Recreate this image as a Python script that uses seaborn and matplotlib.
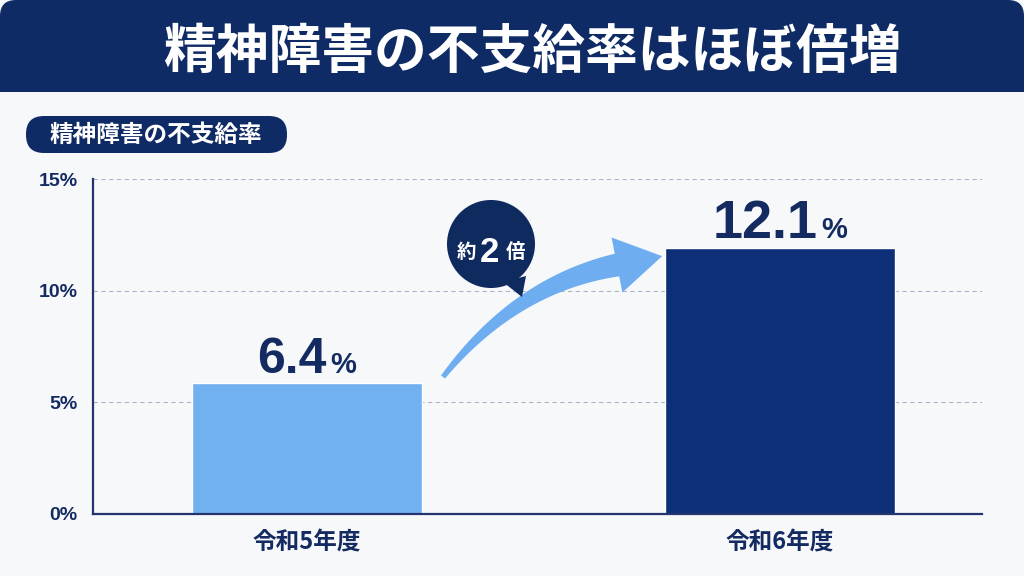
import numpy as np
import pandas as pd
import seaborn as sns
import matplotlib.pyplot as plt
from matplotlib.patches import FancyBboxPatch, Rectangle, Polygon, Circle
from matplotlib.transforms import Affine2D

# ---------------- data ----------------
categories = ["令和5年度", "令和6年度"]
bar_heights = [5.85, 11.9]          # bar heights as drawn in the picture (%)
value_labels = ["6.4", "12.1"]       # printed values
value_sizes = [36, 39]
ytick_values = [0, 5, 10, 15]
ytick_labels = ["0%", "5%", "10%", "15%"]
title_text = "精神障害の不支給率はほぼ倍増"
subtitle_text = "精神障害の不支給率"
badge_parts = ["約", "2", "倍"]

# ---------------- style ----------------
NAVY = "#0f2b66"
BAR_NAVY = "#0c2f78"
LIGHT = "#72b1f0"
TEXT_NAVY = "#142b62"
BG = "#f7f8fa"

sns.set_theme(style="white")
plt.rcParams['font.family'] = ['Noto Sans CJK JP', 'DejaVu Sans']

W, H = 1024, 576
fig = plt.figure(figsize=(W / 100, H / 100), dpi=100, facecolor=BG)
T = Affine2D().scale(1, -1).translate(0, H)  # image pixel coords -> display

ax = fig.add_axes([93 / W, 1 - 514 / H, (982 - 93) / W, (514 - 179) / H])
ax.set_facecolor("none")

df = pd.DataFrame({"year": categories, "rate": bar_heights})
sns.barplot(data=df, x="year", y="rate", hue="year", palette=[LIGHT, BAR_NAVY],
            width=0.486, saturation=1, legend=False, ax=ax)

ax.set_xlim(-0.452, 1.427)
ax.set_ylim(0, 15)
ax.set_yticks(ytick_values)
ax.set_yticklabels(ytick_labels, family="Liberation Sans", weight="bold",
                   fontsize=14, color=TEXT_NAVY)
ax.set_xticks(range(len(categories)))
ax.set_xticklabels(categories, weight="bold", fontsize=17, color=TEXT_NAVY)
ax.tick_params(axis="both", length=0)
ax.tick_params(axis="y", pad=11)
ax.tick_params(axis="x", pad=12)
ax.set_xlabel("")
ax.set_ylabel("")
for s in ["top", "right"]:
    ax.spines[s].set_visible(False)
for s in ["left", "bottom"]:
    ax.spines[s].set_color("#24346e")
    ax.spines[s].set_linewidth(1.6)
ax.set_axisbelow(True)
ax.yaxis.grid(True, linestyle=(0, (4, 3)), color="#a9b5c8", linewidth=0.8)
ax.xaxis.grid(False)

# value labels: number + smaller "%", centred as a group over each bar
fig.canvas.draw()
renderer = fig.canvas.get_renderer()
for i, (h, lab, fs) in enumerate(zip(bar_heights, value_labels, value_sizes)):
    cx, top = ax.transData.transform((i, h))
    ybase = top + 10
    tn = fig.text(0, ybase, lab, transform=None, ha="left", va="baseline",
                  family="Liberation Sans", weight="bold", fontsize=fs, color=TEXT_NAVY)
    tp = fig.text(0, ybase, "%", transform=None, ha="left", va="baseline",
                  family="Liberation Sans", weight="bold", fontsize=21, color=TEXT_NAVY)
    wn = tn.get_window_extent(renderer).width
    wp = tp.get_window_extent(renderer).width
    gap = 4
    left = cx - (wn + gap + wp) / 2
    tn.set_x(left)
    tp.set_x(left + wn + gap)

# ---------------- title banner ----------------
fig.add_artist(FancyBboxPatch((0, 0), W, 92, boxstyle="round,pad=0,rounding_size=16",
                              transform=T, facecolor=NAVY, edgecolor="none", zorder=1))
fig.add_artist(Rectangle((0, 40), W, 52, transform=T, facecolor=NAVY,
                         edgecolor="none", zorder=1))
fig.text(532, 52, title_text, transform=T, ha="center", va="center",
         color="white", weight="bold", fontsize=38, zorder=3)

# subtitle pill
fig.add_artist(FancyBboxPatch((26, 116), 261, 37, boxstyle="round,pad=0,rounding_size=18",
                              transform=T, facecolor=NAVY, edgecolor="none", zorder=1))
fig.text(156, 135, subtitle_text, transform=T, ha="center", va="center",
         color="white", weight="bold", fontsize=17, zorder=3)

# ---------------- curved arrow ----------------
P0 = np.array([443.0, 377.0])
P1 = np.array([515.0, 285.0])
P2 = np.array([617.0, 265.0])
t = np.linspace(0, 1, 60)[:, None]
B = (1 - t) ** 2 * P0 + 2 * (1 - t) * t * P1 + t ** 2 * P2
D = 2 * (1 - t) * (P1 - P0) + 2 * t * (P2 - P1)
D = D / np.linalg.norm(D, axis=1, keepdims=True)
N = np.column_stack([D[:, 1], -D[:, 0]])
w = 2.5 + 9.0 * t
upper = B + N * w
lower = B - N * w
dend = D[-1]
nend = N[-1]
tip = P2 + dend * 46
head = [P2 + nend * 28, tip, P2 - nend * 28]
outline = np.vstack([upper, head, lower[::-1]])
fig.add_artist(Polygon(outline, closed=True, transform=T, facecolor="#6eaef0",
                       edgecolor="none", zorder=2))

# ---------------- badge ----------------
fig.add_artist(Circle((491, 244), 44, transform=T, facecolor="#0f2a5e",
                      edgecolor="none", zorder=3))
fig.add_artist(Polygon([[503, 282], [526, 276], [522, 297]], closed=True, transform=T,
                       facecolor="#0f2a5e", edgecolor="none", zorder=3))
fig.text(466, 253, badge_parts[0], transform=T, ha="center", va="center",
         color="white", weight="bold", fontsize=14, zorder=4)
fig.text(489, 252, badge_parts[1], transform=T, ha="center", va="center",
         color="white", weight="bold", fontsize=25, family="Liberation Sans", zorder=4)
fig.text(516, 253, badge_parts[2], transform=T, ha="center", va="center",
         color="white", weight="bold", fontsize=14, zorder=4)

fig.savefig("out.png", dpi=100, facecolor=BG)
